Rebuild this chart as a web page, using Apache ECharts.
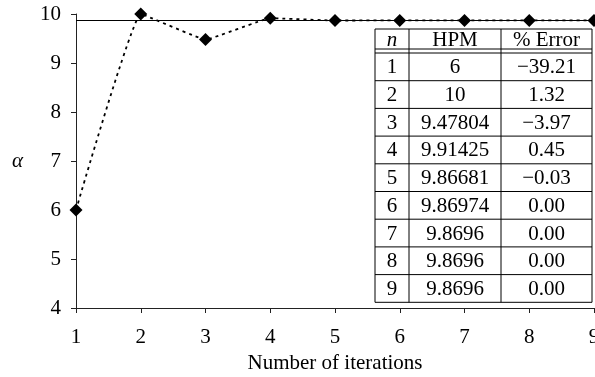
<!DOCTYPE html>
<html>
<head>
<meta charset="utf-8">
<script src="https://cdn.jsdelivr.net/npm/echarts@6/dist/echarts.min.js"></script>
<style>html,body{margin:0;padding:0;background:#fff}#c{width:595px;height:377px}</style>
</head>
<body>
<div id="c"></div>
<script>
var iterations = [1, 2, 3, 4, 5, 6, 7, 8, 9];
var hpmValues = [6, 10, 9.47804, 9.91425, 9.86681, 9.86974, 9.8696, 9.8696, 9.8696];
var exactValue = 9.8696;
var tableN = ['1', '2', '3', '4', '5', '6', '7', '8', '9'];
var tableHPM = ['6', '10', '9.47804', '9.91425', '9.86681', '9.86974', '9.8696', '9.8696', '9.8696'];
var tableErr = ['\u221239.21', '1.32', '\u22123.97', '0.45', '\u22120.03', '0.00', '0.00', '0.00', '0.00'];
var tableHeader = ['n', 'HPM', '% Error'];
var xTicks = [1, 2, 3, 4, 5, 6, 7, 8, 9];
var yTicks = [4, 5, 6, 7, 8, 9, 10];

var FONT = 'Liberation Serif';
var FS = 21;

// table layout
var colX = [375, 409, 501, 592];
var headTop = 29, headBottom = 49, rowTop = 53, rowH = 27.7;
var children = [];
var tableBottom = rowTop + rowH * tableN.length;
children.push({type: 'rect', shape: {x: colX[0], y: headTop, width: colX[3] - colX[0], height: tableBottom - headTop},
  style: {fill: '#fff', stroke: '#000', lineWidth: 1}, z: 10});
function hline(y) {
  children.push({type: 'line', shape: {x1: colX[0], y1: y, x2: colX[3], y2: y}, style: {stroke: '#000', lineWidth: 1}, z: 11});
}
function vline(x) {
  children.push({type: 'line', shape: {x1: x, y1: headTop, x2: x, y2: tableBottom}, style: {stroke: '#000', lineWidth: 1}, z: 11});
}
hline(headBottom); hline(rowTop);
for (var i = 1; i < tableN.length; i++) hline(rowTop + rowH * i);
vline(colX[1]); vline(colX[2]);
function cellText(txt, col, cy, italic) {
  children.push({type: 'text', x: (colX[col] + colX[col + 1]) / 2, y: cy, z: 12,
    style: {text: txt, fill: '#000', font: (italic ? 'italic ' : '') + FS + 'px "' + FONT + '"', textAlign: 'center', textVerticalAlign: 'middle'}});
}
for (var c = 0; c < 3; c++) cellText(tableHeader[c], c, (headTop + headBottom) / 2 + 1, c === 0);
for (var r = 0; r < tableN.length; r++) {
  var cy = rowTop + rowH * r + rowH / 2 + 1;
  cellText(tableN[r], 0, cy);
  cellText(tableHPM[r], 1, cy);
  cellText(tableErr[r], 2, cy);
}

var chart = echarts.init(document.getElementById('c'), null, {renderer: 'canvas'});
chart.setOption({
  animation: false,
  backgroundColor: '#fff',
  textStyle: {fontFamily: FONT},
  grid: {left: 76, right: 1, top: 14, bottom: 69, containLabel: false, outerBoundsMode: 'none'},
  xAxis: {
    type: 'value', min: xTicks[0], max: xTicks[xTicks.length - 1], interval: 1,
    name: 'Number of iterations', nameLocation: 'middle', nameGap: 45,
    nameTextStyle: {fontFamily: FONT, fontSize: FS, color: '#000'},
    axisLine: {show: true, lineStyle: {color: '#222', width: 1}},
    axisTick: {show: true, length: 5, lineStyle: {color: '#222'}},
    axisLabel: {fontFamily: FONT, fontSize: FS, color: '#000', margin: 19, alignMaxLabel: 'center'},
    splitLine: {show: false}
  },
  yAxis: {
    type: 'value', min: yTicks[0], max: yTicks[yTicks.length - 1], interval: 1,
    name: '\u03b1', nameLocation: 'middle', nameGap: 53, nameRotate: 0,
    nameTextStyle: {fontFamily: FONT, fontSize: FS, fontStyle: 'italic', color: '#000'},
    axisLine: {show: true, lineStyle: {color: '#222', width: 1}},
    axisTick: {show: true, length: 5, lineStyle: {color: '#222'}},
    axisLabel: {fontFamily: FONT, fontSize: FS, color: '#000', margin: 15},
    splitLine: {show: false}
  },
  series: [{
    type: 'line',
    data: iterations.map(function (x, i) { return [x, hpmValues[i]]; }),
    smooth: 0.08,
    symbol: 'diamond', symbolSize: 13,
    itemStyle: {color: '#000'},
    lineStyle: {color: '#000', width: 1.8, type: [3, 4]},
    clip: false,
    markLine: {
      silent: true, symbol: ['none', 'none'], label: {show: false},
      lineStyle: {color: '#000', width: 1, type: 'solid'},
      data: [{yAxis: exactValue}]
    },
    z: 3
  }],
  graphic: {elements: children}
});
</script>
</body>
</html>
